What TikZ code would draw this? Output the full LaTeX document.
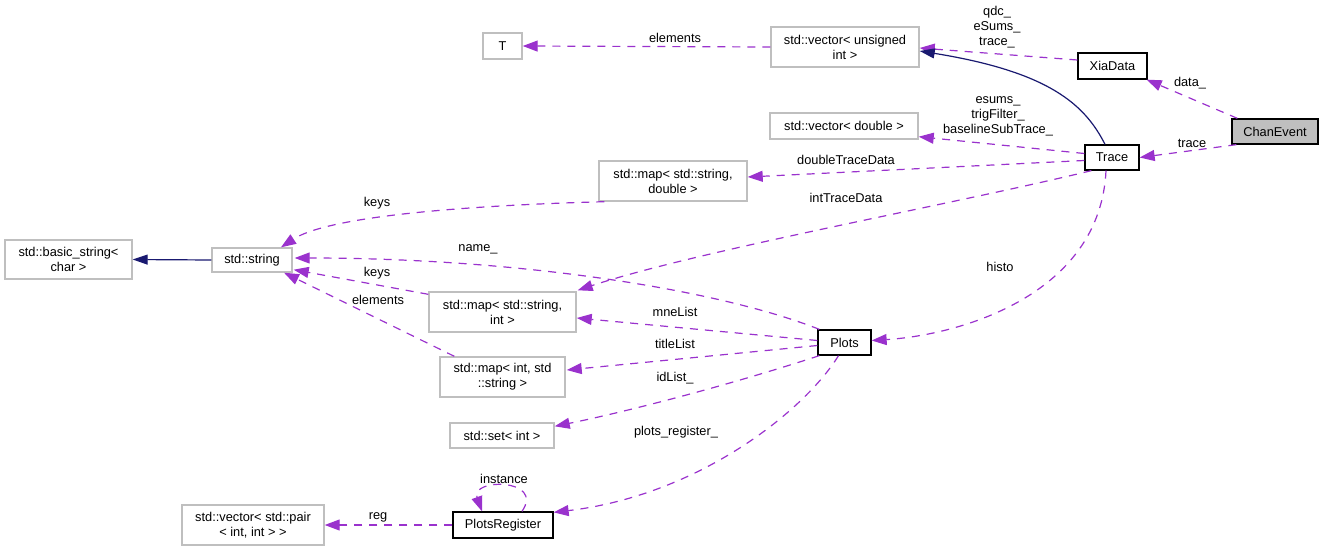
\documentclass[tikz,border=0pt]{standalone}
\usepackage{fontspec}
\setmainfont{Liberation Sans}
\usetikzlibrary{arrows.meta,calc}
\definecolor{depc}{HTML}{9A32CD}
\definecolor{inhc}{HTML}{191970}
\definecolor{gbord}{HTML}{BFBFBF}
\begin{document}
\begin{tikzpicture}[x=1pt,y=-1pt,
  font=\fontsize{12.8}{15}\selectfont,
  box/.style={draw=gbord,line width=1.4pt,fill=white,inner sep=0pt,align=center},
  docbox/.style={draw=black,line width=1.3pt,fill=white,inner sep=0pt,align=center},
  dep/.style={draw=depc,line width=1.2pt,dash pattern=on 8pt off 7pt,
    -{Triangle[length=15pt,width=11pt,fill=depc]}},
  inh/.style={draw=inhc,line width=1.2pt,
    -{Triangle[length=15pt,width=10pt,fill=inhc]}},
  lbl/.style={inner sep=0pt,align=center}]
\useasboundingbox (0,0) rectangle (1324,551);

% nodes
\node[box,minimum width=39pt,minimum height=26pt] (T) at (502.5,46) {T};
\node[box,minimum width=148pt,minimum height=40pt] (vecU) at (845,47) {std::vector< unsigned\\int >};
\node[docbox,minimum width=69pt,minimum height=26pt] (xia) at (1112.5,66) {XiaData};
\node[docbox,fill=gbord,minimum width=86pt,minimum height=25pt] (chan) at (1275,131.5) {ChanEvent};
\node[docbox,minimum width=54pt,minimum height=25pt] (trace) at (1112,157.5) {Trace};
\node[box,minimum width=148pt,minimum height=26pt] (vecD) at (844,126) {std::vector< double >};
\node[box,minimum width=148pt,minimum height=40pt] (mapSD) at (673,181) {std::map< std::string,\\double >};
\node[box,minimum width=127pt,minimum height=39pt] (basic) at (68.5,259.5) {std::basic\_string<\\char >};
\node[box,minimum width=80pt,minimum height=24pt] (str) at (252,260) {std::string};
\node[box,minimum width=147pt,minimum height=40pt] (mapSI) at (502.5,312) {std::map< std::string,\\int >};
\node[docbox,minimum width=53pt,minimum height=25pt] (plots) at (844.5,342.5) {Plots};
\node[box,minimum width=125pt,minimum height=40pt] (mapIS) at (502.5,377) {std::map< int, std\\::string >};
\node[box,minimum width=104pt,minimum height=25pt] (setI) at (502,435.5) {std::set< int >};
\node[docbox,minimum width=100pt,minimum height=26pt] (preg) at (503,525) {PlotsRegister};
\node[box,minimum width=142pt,minimum height=40pt] (vecP) at (253,525) {std::vector< std::pair\\< int, int > >};

% connectors
\draw[dep] (vecU.west) -- (T.east);
\draw[dep] ($(xia.west)+(0,-6)$) -- ($(vecU.east)+(0,1)$);
\draw[inh] ($(trace.north)+(-7,0)$) .. controls (1085,105) and (1050,72) .. ($(vecU.east)+(0,4)$);
\draw[dep] ($(chan.north west)+(6,0)$) -- ($(xia.south east)+(-1,0)$);
\draw[dep] ($(chan.south west)+(5,0)$) -- (trace.east);
\draw[dep] ($(trace.west)+(0,-4)$) -- ($(vecD.south east)+(0,-3)$);
\draw[dep] ($(trace.west)+(0,3)$) -- ($(mapSD.east)+(0,-4)$);
\draw[dep] ($(trace.south west)+(7,0)$) .. controls (950,205) and (700,250) .. ($(mapSI.north east)+(1,-1)$);
\draw[dep] ($(trace.south)+(-6,0)$) .. controls (1100,295) and (960,335) .. ($(plots.east)+(0,-2)$);
\draw[dep] ($(mapSD.south west)+(6,0)$) .. controls (480,205) and (330,215) .. ($(str.north)+(29,0)$);
\draw[inh] (str.west) -- (basic.east);
\draw[dep] ($(plots.north west)+(2,0)$) .. controls (720,290) and (520,258) .. ($(str.east)+(2,-2)$);
\draw[dep] ($(mapSI.north west)+(0,3)$) -- ($(str.south east)+(1,-3)$);
\draw[dep] ($(mapIS.north west)+(15,0)$) -- ($(str.south)+(32,0)$);
\draw[dep] ($(plots.west)+(0,-2)$) -- ($(mapSI.east)+(0,6)$);
\draw[dep] ($(plots.west)+(0,3)$) -- ($(mapIS.east)+(1,-7)$);
\draw[dep] ($(plots.south west)+(2,0)$) .. controls (720,388) and (620,413) .. ($(setI.north east)+(0,4)$);
\draw[dep] ($(plots.south)+(-6,0)$) .. controls (805,410) and (700,495) .. ($(preg.north east)+(0,1)$);
\draw[dep] ($(preg.north)+(19,0)$) .. controls (545,478) and (470,478) .. ($(preg.north)+(-21,0)$);
\draw[dep] (preg.west) -- (vecP.east);

% labels
\node[lbl] (l1) at (675,38) {elements};
\node[lbl] (l2) at (997,27) {qdc\_\\eSums\_\\trace\_};
\node[lbl] (l3) at (1190,83) {data\_};
\node[lbl] (l4) at (1192,143) {trace};
\node[lbl] (l5) at (998,116) {esums\_\\trigFilter\_\\baselineSubTrace\_};
\node[lbl] (l6) at (846,160) {doubleTraceData};
\node[lbl] (l7) at (846,198) {intTraceData};
\node[lbl] (l8) at (1000,267) {histo};
\node[lbl] (l9) at (377,203) {keys};
\node[lbl] (l10) at (478,249) {name\_};
\node[lbl] (l11) at (377,273) {keys};
\node[lbl] (l12) at (378,300) {elements};
\node[lbl] (l13) at (675,312) {mneList};
\node[lbl] (l14) at (675,344) {titleList};
\node[lbl] (l15) at (675,378) {idList\_};
\node[lbl] (l16) at (676,432) {plots\_register\_};
\node[lbl] (l17) at (504,479) {instance};
\node[lbl] (l18) at (378,517) {reg};
\end{tikzpicture}
\end{document}
